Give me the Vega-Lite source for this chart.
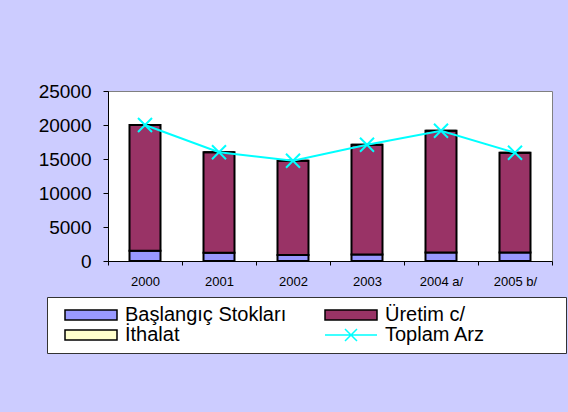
{
  "$schema": "https://vega.github.io/schema/vega-lite/v6.json",
  "width": 444,
  "height": 170,
  "autosize": {"type": "none"},
  "padding": {"left": 108, "top": 91, "right": 16, "bottom": 151},
  "background": "#CCCCFF",
  "config": {
    "view": {"fill": "white", "stroke": "#808080", "strokeWidth": 1},
    "font": "Liberation Sans",
    "legend": {
      "orient": "none",
      "direction": "horizontal",
      "legendX": -61,
      "legendY": 206,
      "columns": 2,
      "columnPadding": 28,
      "rowPadding": 0,
      "padding": 8,
      "fillColor": "white",
      "strokeColor": "#333333",
      "labelFont": "Liberation Sans",
      "labelFontSize": 20,
      "labelColor": "black",
      "labelOffset": 50,
      "labelLimit": 400,
      "symbolSize": 100,
      "symbolStrokeWidth": 1.5
    }
  },
  "data": {
    "values": [
      {"year": "2000", "series": "Başlangıç Stokları", "value": 1500},
      {"year": "2000", "series": "Üretim c/", "value": 18500},
      {"year": "2000", "series": "İthalat", "value": 0},
      {"year": "2000", "series": "Toplam Arz", "value": 20000},
      {"year": "2001", "series": "Başlangıç Stokları", "value": 1200},
      {"year": "2001", "series": "Üretim c/", "value": 14800},
      {"year": "2001", "series": "İthalat", "value": 0},
      {"year": "2001", "series": "Toplam Arz", "value": 16000},
      {"year": "2002", "series": "Başlangıç Stokları", "value": 900},
      {"year": "2002", "series": "Üretim c/", "value": 13850},
      {"year": "2002", "series": "İthalat", "value": 0},
      {"year": "2002", "series": "Toplam Arz", "value": 14750},
      {"year": "2003", "series": "Başlangıç Stokları", "value": 950},
      {"year": "2003", "series": "Üretim c/", "value": 16150},
      {"year": "2003", "series": "İthalat", "value": 0},
      {"year": "2003", "series": "Toplam Arz", "value": 17100},
      {"year": "2004 a/", "series": "Başlangıç Stokları", "value": 1250},
      {"year": "2004 a/", "series": "Üretim c/", "value": 17900},
      {"year": "2004 a/", "series": "İthalat", "value": 0},
      {"year": "2004 a/", "series": "Toplam Arz", "value": 19150},
      {"year": "2005 b/", "series": "Başlangıç Stokları", "value": 1250},
      {"year": "2005 b/", "series": "Üretim c/", "value": 14680},
      {"year": "2005 b/", "series": "İthalat", "value": 0},
      {"year": "2005 b/", "series": "Toplam Arz", "value": 15930}
    ]
  },
  "encoding": {
    "x": {
      "field": "year",
      "type": "nominal",
      "sort": null,
      "scale": {"paddingInner": 0, "paddingOuter": 0},
      "axis": {
        "title": null,
        "labelAngle": 0,
        "tickBand": "extent",
        "tickSize": 4,
        "labelPadding": 10,
        "labelFontSize": 13,
        "labelFont": "Liberation Sans",
        "labelColor": "black",
        "domainColor": "black",
        "tickColor": "black"
      }
    },
    "y": {
      "field": "value",
      "type": "quantitative",
      "scale": {"domain": [0, 25000], "nice": false},
      "axis": {
        "title": null,
        "values": [0, 5000, 10000, 15000, 20000, 25000],
        "format": "d",
        "labelOverlap": false,
        "grid": false,
        "domainColor": "black",
        "tickColor": "black",
        "tickSize": 5,
        "labelPadding": 12,
        "labelFontSize": 19,
        "labelFont": "Liberation Sans",
        "labelColor": "black"
      }
    },
    "fill": {
      "field": "series",
      "type": "nominal",
      "scale": {
        "domain": ["Başlangıç Stokları", "Üretim c/", "İthalat", "Toplam Arz"],
        "range": ["#9999FF", "#993366", "#FFFFCC", "transparent"]
      },
      "legend": {
        "title": null,
        "encode": {
          "symbols": {
            "update": {
              "shape": {"signal": "datum.label === 'Toplam Arz' ? 'M0,0H10.4M4,-1.2L6.4,1.2M4,1.2L6.4,-1.2M46,0L46,0' : 'M0,-1H10.4V1H0Z'"},
              "strokeWidth": {"value": 1.5},
              "opacity": {"value": 1}
            }
          }
        }
      }
    },
    "stroke": {
      "field": "series",
      "type": "nominal",
      "scale": {
        "domain": ["Başlangıç Stokları", "Üretim c/", "İthalat", "Toplam Arz"],
        "range": ["black", "black", "black", "#00FFFF"]
      },
      "legend": {
        "title": null,
        "encode": {
          "symbols": {
            "update": {
              "shape": {"signal": "datum.label === 'Toplam Arz' ? 'M0,0H10.4M4,-1.2L6.4,1.2M4,1.2L6.4,-1.2M46,0L46,0' : 'M0,-1H10.4V1H0Z'"},
              "strokeWidth": {"value": 1.5},
              "opacity": {"value": 1}
            }
          }
        }
      }
    }
  },
  "layer": [
    {
      "transform": [{"filter": "datum.series !== 'Toplam Arz'"}],
      "mark": {"type": "bar", "width": 31, "strokeWidth": 2},
      "encoding": {
        "order": {"field": "series", "sort": "ascending"}
      }
    },
    {
      "transform": [{"filter": "datum.series === 'Toplam Arz'"}],
      "mark": {"type": "line", "strokeWidth": 2},
      "encoding": {"fill": {"value": null}}
    },
    {
      "transform": [{"filter": "datum.series === 'Toplam Arz'"}],
      "mark": {"type": "point", "shape": "M-1,-1L1,1M-1,1L1,-1", "filled": false, "size": 196, "strokeWidth": 2, "opacity": 1},
      "encoding": {"fill": {"value": null}}
    }
  ]
}
